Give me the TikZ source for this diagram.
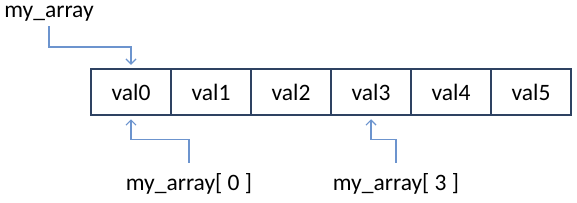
\documentclass[tikz,border=0pt]{standalone}
\usepackage{fontspec}
\setmainfont{Carlito}
\usetikzlibrary{arrows.meta}
\definecolor{boxline}{RGB}{46,66,98}
\definecolor{ptrblue}{RGB}{108,148,206}
\tikzset{
  cell/.style={draw=boxline,line width=2.5pt,minimum width=80pt,minimum height=46pt,inner sep=0pt,font=\fontsize{23.5}{26}\selectfont},
  lbl/.style={inner sep=0pt,anchor=base,font=\fontsize{23.5}{26}\selectfont},
  ptr/.style={draw=ptrblue,line width=1.2pt,-{Straight Barb[length=5pt,width=10pt]}}
}
\begin{document}
\begin{tikzpicture}[x=1pt,y=-1pt]
    \useasboundingbox (0,0) rectangle (577,202);
    % the array cells
    \foreach \i in {0,...,5}
        \node[cell] (c\i) at (131+80*\i,92) {val\i};

    \node[lbl] (arr) at (49,17.5) {my\_array};
    \node[lbl] (idx0) at (189,190) {my\_array[ 0 ]};
    \node[lbl] (idx3) at (396,190) {my\_array[ 3 ]};

    \draw[ptr,shorten <=5pt,shorten >=3pt] (arr.south) -- ++(0,25.5) -| (c0.north);
    \draw[ptr,shorten <=10pt,shorten >=3pt] (idx0.north) -- ++(0,-33) -| (c0.south);
    \draw[ptr,shorten <=10pt,shorten >=3pt] (idx3.north) -- ++(0,-33) -| (c3.south);
\end{tikzpicture}
\end{document}
